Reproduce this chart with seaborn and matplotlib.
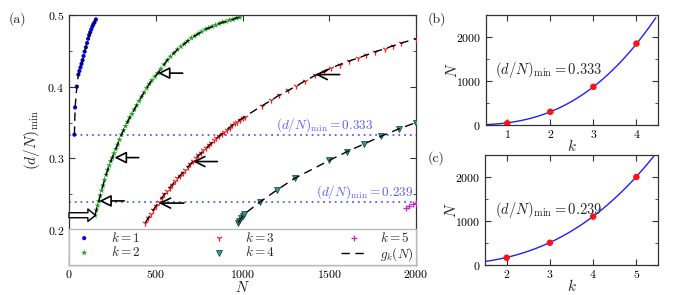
import numpy as np
import pandas as pd
import matplotlib
matplotlib.use("Agg")
import matplotlib.pyplot as plt
import seaborn as sns
from matplotlib.ticker import MultipleLocator

# ---------------- data: panel (a) ----------------
k1_N = [31, 35, 45, 54, 60, 66, 72, 78, 84, 90, 97, 104, 110, 116, 122, 128, 134, 140, 147, 155]
k1_y = [0.333, 0.371, 0.400, 0.417, 0.422, 0.427, 0.432, 0.437, 0.443, 0.449, 0.455, 0.461,
        0.467, 0.472, 0.476, 0.480, 0.484, 0.487, 0.490, 0.494]

k2_N = [150, 158, 165, 172, 180, 188, 196, 205, 214, 223, 232, 241, 250, 260, 270, 280, 291,
        302, 314, 326, 338, 350, 363, 376, 390, 404, 418, 433, 448, 463, 478, 495, 512, 530,
        548, 566, 585, 605, 625, 645, 665, 685, 705, 725, 745, 765, 785, 805, 825, 845, 865,
        885, 905, 925, 945, 965, 985]
k2_y = [0.220, 0.228, 0.234, 0.240, 0.248, 0.255, 0.262, 0.270, 0.277, 0.284, 0.290, 0.296,
        0.301, 0.307, 0.313, 0.319, 0.326, 0.333, 0.339, 0.345, 0.351, 0.357, 0.362, 0.368,
        0.374, 0.380, 0.386, 0.392, 0.398, 0.404, 0.409, 0.414, 0.419, 0.425, 0.431, 0.437,
        0.442, 0.447, 0.452, 0.456, 0.460, 0.464, 0.468, 0.471, 0.474, 0.477, 0.480, 0.482,
        0.484, 0.486, 0.488, 0.490, 0.491, 0.493, 0.494, 0.496, 0.497]

k3_N = [440, 455, 470, 485, 500, 517, 535, 550, 565, 580, 595, 610, 625, 640, 655, 670, 685,
        700, 715, 730, 745, 760, 775, 790, 805, 820, 835, 850, 865, 880, 895, 910, 925, 940,
        955, 970, 985, 1000, 1012, 1110, 1165, 1210, 1265, 1310, 1360, 1420, 1470, 1510, 1560,
        1615, 1665, 1710, 1765, 1820, 1865, 1915, 2000]
k3_y = [0.210, 0.216, 0.222, 0.228, 0.233, 0.239, 0.245, 0.250, 0.254, 0.259, 0.263, 0.268,
        0.272, 0.276, 0.280, 0.284, 0.288, 0.292, 0.296, 0.300, 0.304, 0.307, 0.311, 0.314,
        0.318, 0.321, 0.325, 0.328, 0.331, 0.334, 0.337, 0.340, 0.343, 0.346, 0.349, 0.351,
        0.354, 0.356, 0.358, 0.373, 0.381, 0.388, 0.395, 0.401, 0.408, 0.416, 0.421, 0.426,
        0.431, 0.436, 0.440, 0.444, 0.449, 0.453, 0.457, 0.461, 0.467]

k4_N = [975, 982, 990, 1000, 1010, 1100, 1200, 1300, 1500, 1600, 1700, 1800, 1900, 2000]
k4_y = [0.210, 0.213, 0.216, 0.219, 0.222, 0.239, 0.256, 0.272, 0.297, 0.309, 0.320, 0.331,
        0.341, 0.350]

k5_N = [1940, 1960, 1985, 2000]
k5_y = [0.230, 0.233, 0.236, 0.238]

dmin_levels = [0.333, 0.239]

# ---------------- data: panels (b), (c) ----------------
b_k = [1, 2, 3, 4]
b_N = [38, 300, 868, 1850]
b_fit = (48.8, 2.62)      # N = a * k**p
c_k = [2, 3, 4, 5]
c_N = [165, 505, 1100, 2000]
c_fit = (26.9, 2.68)

# ---------------- style ----------------
sns.set_style("ticks")
plt.rcParams.update({
    "font.family": ["serif"],
    "font.serif": ["cmr10", "DejaVu Serif"],
    "mathtext.fontset": "cm",
    "axes.formatter.use_mathtext": True,
    "axes.unicode_minus": False,
    "xtick.direction": "in", "ytick.direction": "in",
    "xtick.top": True, "ytick.right": True,
    "xtick.major.size": 4, "ytick.major.size": 4,
    "xtick.minor.size": 2.5, "ytick.minor.size": 2.5,
    "xtick.labelsize": 8.5, "ytick.labelsize": 8.5,
    "xtick.major.pad": 2,
    "axes.edgecolor": "#333333", "axes.linewidth": 0.9,
    "xtick.color": "#333333", "ytick.color": "#333333",
    "xtick.labelcolor": "black", "ytick.labelcolor": "black",
})

fig = plt.figure(figsize=(6.93, 2.95), dpi=100)
axa = fig.add_axes([0.0996, 0.1017, 0.5007, 0.847])
axb = fig.add_axes([0.7009, 0.5763, 0.2486, 0.3729])
axc = fig.add_axes([0.6999, 0.1017, 0.2496, 0.3729])

# ---------------- panel (a) ----------------
dash = (0, (6, 4))
sns.scatterplot(x=k1_N, y=k1_y, ax=axa, marker="o", color="#0000ee", s=9,
                edgecolor="none", label="$k=1$", zorder=3)
sns.scatterplot(x=k2_N, y=k2_y, ax=axa, marker="*", color="#22a022", s=22,
                edgecolor="none", label="$k=2$", zorder=3)
sns.scatterplot(x=k3_N, y=k3_y, ax=axa, marker="1", color="#ff1a1a", s=20,
                linewidth=0.9, label="$k=3$", zorder=3)
sns.scatterplot(x=k4_N, y=k4_y, ax=axa, marker="v", color="#2a9d9d", s=18,
                edgecolor="#113333", linewidth=0.5, label="$k=4$", zorder=3)
sns.scatterplot(x=k5_N, y=k5_y, ax=axa, marker="+", color="#cc22cc", s=22,
                linewidth=0.9, label="$k=5$", zorder=3)

first = True
for xs, ys in [(k1_N, k1_y), (k2_N, k2_y), (k3_N, k3_y), (k4_N, k4_y)]:
    sns.lineplot(x=xs, y=ys, ax=axa, color="black", lw=1.0, linestyle=dash,
                 estimator=None, sort=False, zorder=4,
                 label="$g_k(N)$" if first else None)
    first = False

for lev in dmin_levels:
    axa.axhline(lev, color="#5a5aff", lw=1.3, ls=(0, (1, 2.2)), zorder=2)
axa.text(1195, 0.3345, r"$(d/N)_{\min}=0.333$", color="#5a5aff", fontsize=9.5,
         ha="left", va="bottom")
axa.text(1425, 0.2405, r"$(d/N)_{\min}=0.239$", color="#5a5aff", fontsize=9.5,
         ha="left", va="bottom")

# arrows
hollow = dict(arrowstyle="-|>,head_length=0.6,head_width=0.3", fc="white", ec="black",
              lw=1.2, mutation_scale=12, shrinkA=0, shrinkB=0)
openh = dict(arrowstyle="->,head_length=0.6,head_width=0.3", color="black",
             lw=1.2, mutation_scale=12, shrinkA=0, shrinkB=0)
for (tx, ty, tail) in [(512, 0.419, 655), (262, 0.301, 402), (174, 0.2405, 318)]:
    axa.annotate("", xy=(tx, ty), xytext=(tail, ty), arrowprops=hollow, zorder=5)
for (tx, ty, tail) in [(1420, 0.417, 1560), (715, 0.2955, 855), (517, 0.2375, 662)]:
    axa.annotate("", xy=(tx, ty), xytext=(tail, ty), arrowprops=openh, zorder=5)
axa.annotate("", xy=(152, 0.2205), xytext=(0, 0.2205),
             arrowprops=dict(arrowstyle="simple,head_length=0.45,head_width=0.75,tail_width=0.3",
                             fc="white", ec="black", lw=1.0, mutation_scale=12,
                             shrinkA=0, shrinkB=0), zorder=5)

axa.set_xlim(0, 2000)
axa.set_ylim(0.151, 0.5)
axa.set_xticks([0, 500, 1000, 1500, 2000])
axa.set_yticks([0.2, 0.3, 0.4, 0.5])
axa.yaxis.set_minor_locator(MultipleLocator(0.05))
axa.set_xlabel("$N$", fontsize=10.5, labelpad=0)
axa.set_ylabel(r"$(d/N)_{\min}$", fontsize=11, labelpad=4)

h, l = axa.get_legend_handles_labels()
order = ["$k=1$", "$k=2$", "$k=3$", "$k=4$", "$k=5$", "$g_k(N)$"]
hd = dict(zip(l, h))
leg_h = (0.1944 - 0.151) / (0.5 - 0.151)
leg = axa.legend([hd[o] for o in order], order, ncol=3, loc="lower left",
                 bbox_to_anchor=(0, 0, 1, leg_h), mode="expand", borderaxespad=0,
                 fontsize=9.5, frameon=True, fancybox=False, edgecolor="#bbbbbb",
                 framealpha=1, labelspacing=0.05, borderpad=0.15, handlelength=2.0,
                 handletextpad=1.0, columnspacing=1.0, markerscale=1.0)
leg.get_frame().set_linewidth(1.0)
leg.set_zorder(6)

# ---------------- panels (b), (c) ----------------
for ax, ks, Ns, (a, p), xl, lab, txt in [
        (axb, b_k, b_N, b_fit, (0.5, 4.5), "(b)", r"$(d/N)_{\min}=0.333$"),
        (axc, c_k, c_N, c_fit, (1.5, 5.5), "(c)", r"$(d/N)_{\min}=0.239$")]:
    kk = np.linspace(xl[0], xl[1] - 0.05, 200)
    sns.lineplot(x=kk, y=a * kk ** p, ax=ax, color="#1f1fff", lw=1.0, estimator=None)
    sns.scatterplot(x=ks, y=Ns, ax=ax, color="#ff1111", s=22, edgecolor="none", zorder=3)
    ax.set_xlim(*xl)
    ax.set_ylim(0, 2500)
    ax.set_xticks(ks)
    ax.set_yticks([0, 1000, 2000])
    ax.yaxis.set_minor_locator(MultipleLocator(500))
    ax.set_xlabel("$k$", fontsize=11, labelpad=-1)
    ax.set_ylabel("$N$", fontsize=11, labelpad=-3)
    ax.text(0.055, 0.5, txt, transform=ax.transAxes, fontsize=10.5, ha="left", va="center")

fig.text(0.012, 0.925, "(a)", fontsize=10)
fig.text(0.617, 0.925, "(b)", fontsize=10)
fig.text(0.617, 0.452, "(c)", fontsize=10)

fig.savefig("out.png", dpi=100)
